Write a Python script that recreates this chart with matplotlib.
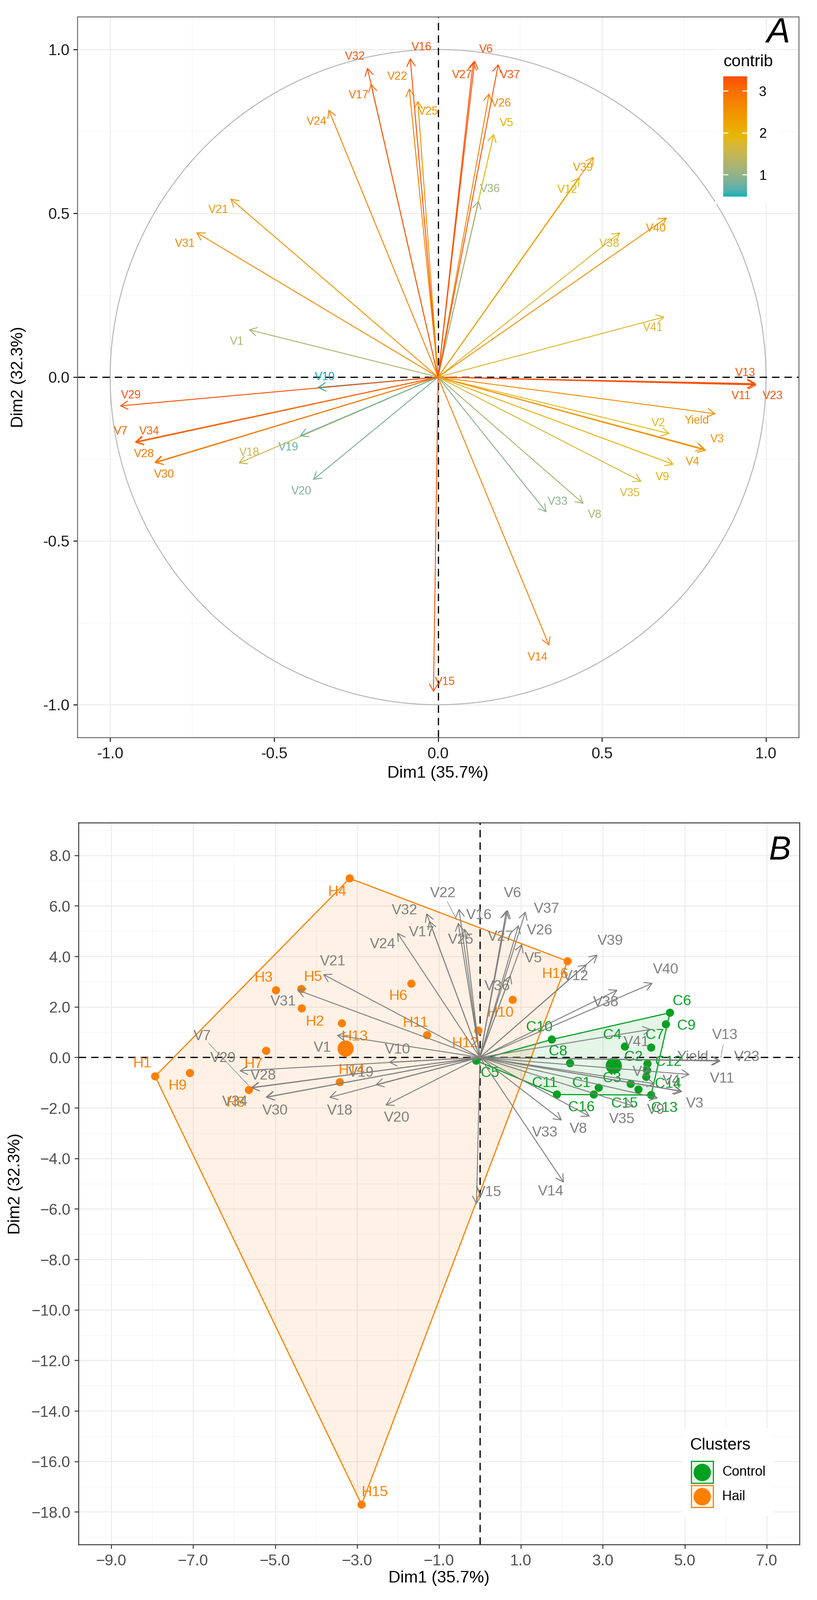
import numpy as np
import matplotlib
matplotlib.use("Agg")
import matplotlib.pyplot as plt
from matplotlib.patches import Circle, Rectangle, Polygon, FancyArrowPatch, ArrowStyle
from matplotlib.colors import LinearSegmentedColormap, Normalize, to_rgb

plt.rcParams['font.family'] = ['Liberation Sans', 'DejaVu Sans']

W, H, DPI = 2196, 4298, 200

# variable coordinates on the correlation circle (Dim1, Dim2)
var_names = ['V1', 'V2', 'V3', 'V4', 'V5', 'V6', 'V7', 'V8', 'V9', 'V10',
             'V11', 'V12', 'V13', 'V14', 'V15', 'V16', 'V17', 'V18', 'V19', 'V20',
             'V21', 'V22', 'V23', 'V24', 'V25', 'V26', 'V27', 'V28', 'V29', 'V30',
             'V31', 'V32', 'V33', 'V34', 'V35', 'V36', 'V37', 'V38', 'V39', 'V40',
             'V41', 'Yield']
var_dim1 = [-0.578, 0.707, 0.818, 0.812, 0.170, 0.112, -0.925, 0.444, 0.719, -0.368,
            0.968, 0.432, 0.970, 0.339, -0.014, -0.085, -0.205, -0.609, -0.422, -0.382,
            -0.634, -0.088, 0.972, -0.334, -0.062, 0.156, 0.107, -0.866, -0.971, -0.864,
            -0.738, -0.216, 0.331, -0.924, 0.621, 0.124, 0.184, 0.556, 0.475, 0.698,
            0.691, 0.847]
var_dim2 = [0.145, -0.173, -0.224, -0.220, 0.743, 0.967, -0.198, -0.387, -0.267, -0.032,
            -0.022, 0.610, -0.020, -0.820, -0.962, 0.974, 0.896, -0.263, -0.180, -0.314,
            0.545, 0.882, -0.024, 0.817, 0.844, 0.867, 0.963, -0.261, -0.088, -0.262,
            0.442, 0.945, -0.413, -0.200, -0.319, 0.539, 0.956, 0.442, 0.673, 0.487,
            0.184, -0.112]
var_contrib = [1.24, 1.86, 2.52, 2.48, 2.03, 3.32, 3.16, 1.21, 2.06, 0.48,
               3.28, 1.96, 3.29, 2.76, 3.24, 3.35, 2.96, 1.54, 0.74, 0.86,
               2.45, 2.75, 3.31, 2.73, 2.51, 2.72, 3.29, 2.86, 3.33, 2.85,
               2.59, 3.29, 0.98, 3.13, 1.71, 1.07, 3.32, 1.77, 2.38, 2.54,
               1.79, 2.55]

# label positions, panel A
lab_a_x = [-0.614, 0.672, 0.851, 0.776, 0.209, 0.146, -0.968, 0.478, 0.684, -0.345,
           0.924, 0.394, 0.937, 0.303, 0.021, -0.051, -0.242, -0.576, -0.457, -0.417,
           -0.670, -0.124, 1.021, -0.370, -0.030, 0.192, 0.073, -0.897, -0.937, -0.835,
           -0.772, -0.254, 0.365, -0.881, 0.585, 0.158, 0.220, 0.522, 0.442, 0.665,
           0.655, 0.788]
lab_a_y = [0.108, -0.141, -0.190, -0.259, 0.775, 1.000, -0.166, -0.421, -0.306, 0.000,
           -0.058, 0.572, 0.012, -0.856, -0.931, 1.007, 0.860, -0.231, -0.215, -0.349,
           0.510, 0.917, -0.058, 0.780, 0.810, 0.835, 0.922, -0.235, -0.056, -0.298,
           0.407, 0.978, -0.381, -0.166, -0.355, 0.574, 0.922, 0.407, 0.639, 0.453,
           0.150, -0.133]

# label positions, panel B (biplot)
lab_b_x = [-3.85, 3.94, 5.25, 4.67, 1.30, 0.80, -6.78, 2.40, 4.29, -2.01,
           5.91, 2.34, 5.98, 1.73, 0.21, -0.02, -1.42, -3.42, -2.90, -2.03,
           -3.59, -0.90, 6.52, -2.38, -0.47, 1.46, 0.50, -5.29, -6.27, -5.00,
           -4.80, -1.84, 1.58, -5.98, 3.46, 0.42, 1.63, 3.07, 3.18, 4.54,
           3.82, 5.19]
lab_b_y = [0.37, -0.58, -1.84, -0.93, 3.91, 6.49, 0.83, -2.84, -2.08, 0.30,
           -0.85, 3.21, 0.87, -5.32, -5.35, 5.63, 4.94, -2.11, -0.61, -2.40,
           3.80, 6.49, 0.00, 4.47, 4.65, 5.02, 4.77, -0.73, -0.04, -2.11,
           2.20, 5.81, -2.99, -1.76, -2.45, 2.81, 5.88, 2.18, 4.61, 3.47,
           0.60, 0.00]
b_leader = ['V7', 'V13', 'V22']
VAR_SCALE = 6.05

# individuals
hail_names = ['H%d' % i for i in range(1, 17)]
hail_dim1 = [-7.93, -4.35, -4.98, -3.18, -4.36, -1.675, -5.22, -5.64,
             -7.08, 0.80, -1.29, -0.04, -3.37, -3.42, -2.89, 2.14]
hail_dim2 = [-0.75, 1.94, 2.66, 7.09, 2.71, 2.92, 0.26, -1.29,
             -0.62, 2.28, 0.88, 1.06, 1.35, -0.98, -17.71, 3.81]
hail_lab_x = [-8.24, -4.03, -5.28, -3.48, -4.07, -1.99, -5.53, -5.96,
              -7.38, 0.50, -1.57, -0.36, -3.06, -3.13, -2.57, 1.84]
hail_lab_y = [-0.25, 1.41, 3.14, 6.55, 3.18, 2.42, -0.27, -1.81,
              -1.13, 1.76, 1.36, 0.55, 0.82, -0.51, -17.23, 3.30]

ctrl_names = ['C%d' % i for i in range(1, 17)]
ctrl_dim1 = [2.90, 4.09, 3.68, 3.54, -0.09, 4.64, 4.18, 2.20,
             4.54, 1.755, 1.88, 4.08, 4.18, 4.06, 3.87, 2.78]
ctrl_dim2 = [-1.20, -0.25, -1.05, 0.43, -0.13, 1.77, 0.39, -0.23,
             1.31, 0.71, -1.47, -0.51, -1.49, -0.77, -1.27, -1.47]
ctrl_lab_x = [2.48, 3.75, 3.22, 3.23, 0.24, 4.93, 4.27, 1.91,
              5.04, 1.45, 1.58, 4.60, 4.50, 4.59, 3.53, 2.48]
ctrl_lab_y = [-1.03, 0.00, -0.84, 0.88, -0.63, 2.22, 0.87, 0.23,
              1.24, 1.19, -1.03, -0.19, -2.02, -1.06, -1.84, -1.99]

HAIL_COL = '#FF7F00'
CTRL_COL = '#00A121'
VAR_GREY = '#7F7F7F'
GRAD = ['#00AFBB', '#E7B800', '#FC4E07']


# --- colour ramp interpolated in CIELAB, as ggplot does
_M = np.array([[0.4124564, 0.3575761, 0.1804375],
               [0.2126729, 0.7151522, 0.0721750],
               [0.0193339, 0.1191920, 0.9503041]])
_WP = np.array([0.95047, 1.0, 1.08883])


def to_lab(c):
    c = np.array(to_rgb(c))
    lin = np.where(c <= 0.04045, c / 12.92, ((c + 0.055) / 1.055) ** 2.4)
    t = (_M @ lin) / _WP
    d = 6 / 29
    f = np.where(t > d ** 3, np.cbrt(t), t / (3 * d * d) + 4 / 29)
    return np.array([116 * f[1] - 16, 500 * (f[0] - f[1]), 200 * (f[1] - f[2])])


def from_lab(lab):
    fy = (lab[0] + 16) / 116
    f = np.array([fy + lab[1] / 500, fy, fy - lab[2] / 200])
    d = 6 / 29
    t = np.where(f > d, f ** 3, 3 * d * d * (f - 4 / 29))
    lin = np.linalg.solve(_M, t * _WP)
    lin = np.clip(lin, 0, None)
    c = np.where(lin <= 0.0031308, 12.92 * lin, 1.055 * lin ** (1 / 2.4) - 0.055)
    return np.clip(c, 0, 1)


labs = [to_lab(c) for c in GRAD]
ramp = []
for t in np.linspace(0, 1, 256):
    seg = min(int(t * 2), 1)
    u = t * 2 - seg
    ramp.append(from_lab(labs[seg] * (1 - u) + labs[seg + 1] * u))
cmap = LinearSegmentedColormap.from_list('contrib', ramp)
norm = Normalize(min(var_contrib), max(var_contrib))


def convex_hull(xs, ys):
    pts = sorted(zip(xs, ys))

    def cross(o, a, b):
        return (a[0] - o[0]) * (b[1] - o[1]) - (a[1] - o[1]) * (b[0] - o[0])
    lower, upper = [], []
    for p in pts:
        while len(lower) >= 2 and cross(lower[-2], lower[-1], p) <= 0:
            lower.pop()
        lower.append(p)
    for p in reversed(pts):
        while len(upper) >= 2 and cross(upper[-2], upper[-1], p) <= 0:
            upper.pop()
        upper.append(p)
    return lower[:-1] + upper[:-1]


def px_box(x0, y0, x1, y1):
    return [x0 / W, 1 - y1 / H, (x1 - x0) / W, (y1 - y0) / H]


def ftext(x, y, s, **kw):
    fig.text(x / W, 1 - y / H, s, **kw)


def arrow(ax, x, y, color, lw=0.9, z=3):
    ax.add_patch(FancyArrowPatch((0, 0), (x, y),
                                 arrowstyle=ArrowStyle('->', head_length=7, head_width=4),
                                 mutation_scale=1, shrinkA=0, shrinkB=0,
                                 color=color, lw=lw, zorder=z))


def style_axes(ax, spine_col, tick_col, lab_col):
    ax.set_axisbelow(True)
    ax.grid(which='major', color='#EBEBEB', lw=0.9)
    ax.grid(which='minor', color='#F4F4F4', lw=0.5)
    for s in ax.spines.values():
        s.set_color(spine_col)
        s.set_linewidth(0.9)
    ax.tick_params(which='major', length=4, width=0.9, color=tick_col,
                   labelsize=15, labelcolor=lab_col)
    ax.tick_params(which='minor', length=0)
    ax.tick_params(axis='x', pad=5)
    ax.tick_params(axis='y', pad=3.5)


fig = plt.figure(figsize=(W / DPI, H / DPI), dpi=DPI)

# ---------------- panel A: correlation circle ----------------
ax = fig.add_axes(px_box(208, 45, 2147, 1981))
ax.set_xlim(-1.1, 1.1)
ax.set_ylim(-1.1, 1.1)
ax.set_xticks([-1, -0.5, 0, 0.5, 1])
ax.set_yticks([-1, -0.5, 0, 0.5, 1])
ax.set_xticks([-0.75, -0.25, 0.25, 0.75], minor=True)
ax.set_yticks([-0.75, -0.25, 0.25, 0.75], minor=True)
ax.set_xticklabels(['%.1f' % v for v in [-1, -0.5, 0, 0.5, 1]])
ax.set_yticklabels(['%.1f' % v for v in [-1, -0.5, 0, 0.5, 1]])
style_axes(ax, '#666666', 'black', '#1A1A1A')

ax.add_patch(Circle((0, 0), 1, fill=False, ec='#B3B3B3', lw=0.9, zorder=1))
ax.axhline(0, color='black', lw=1.2, ls=(0, (6, 4)), zorder=1.5)
ax.axvline(0, color='black', lw=1.2, ls=(0, (6, 4)), zorder=1.5)

for i, name in enumerate(var_names):
    col = cmap(norm(var_contrib[i]))
    arrow(ax, var_dim1[i], var_dim2[i], col, lw=0.9, z=2)
    ax.text(lab_a_x[i], lab_a_y[i], name, color=col, fontsize=11,
            ha='center', va='center', zorder=3)

# white legend box on top of the circle
ax.add_patch(Rectangle((1922 / W, 1 - 548 / H), 178 / W, 414 / H,
                       transform=fig.transFigure, fc='white', ec='none', zorder=10))

ftext(1177, 2077, 'Dim1 (35.7%)', ha='center', va='center', fontsize=16)
ftext(50, 1013, 'Dim2 (32.3%)', ha='center', va='center', fontsize=16, rotation=90)
ftext(2092, 89, 'A', ha='center', va='center', fontsize=34, style='italic')

# colour bar for contrib
cax = fig.add_axes(px_box(1944, 205, 2008, 528))
grad = np.linspace(norm.vmin, norm.vmax, 256).reshape(-1, 1)
cax.imshow(grad, cmap=cmap, norm=norm, aspect='auto', origin='lower',
           extent=[0, 1, norm.vmin, norm.vmax])
cax.set_xlim(0, 1)
cax.set_ylim(norm.vmin, norm.vmax)
for s in cax.spines.values():
    s.set_visible(False)
cax.set_xticks([])
cax.set_yticks([1, 2, 3])
cax.tick_params(axis='y', left=False, right=False, labelleft=False,
                labelright=True, labelsize=13, pad=8)
cax.hlines([1, 2, 3], 0, 0.2, color='white', lw=1)
cax.hlines([1, 2, 3], 0.8, 1, color='white', lw=1)
ftext(1944, 166, 'contrib', ha='left', va='center', fontsize=16)

# ---------------- panel B: biplot ----------------
bx = fig.add_axes(px_box(210.5, 2210, 2149, 4149))
bx.set_xlim(-9.805, 7.802)
bx.set_ylim(-19.29, 9.294)
xt = list(range(-9, 8, 2))
yt = list(range(-18, 9, 2))
bx.set_xticks(xt)
bx.set_yticks(yt)
bx.set_xticks(list(range(-8, 8, 2)), minor=True)
bx.set_yticks(list(range(-19, 10, 2)), minor=True)
bx.set_xticklabels([('%.1f' % v).replace('-', '\u2212') for v in xt])
bx.set_yticklabels([('%.1f' % v).replace('-', '\u2212') for v in yt])
style_axes(bx, '#333333', '#333333', '#4D4D4D')

for xs, ys, col in [(ctrl_dim1, ctrl_dim2, CTRL_COL), (hail_dim1, hail_dim2, HAIL_COL)]:
    hull = convex_hull(xs, ys)
    bx.add_patch(Polygon(hull, closed=True, fc=col, alpha=0.1, ec='none', zorder=1))
    bx.add_patch(Polygon(hull, closed=True, fill=False, ec=col, lw=1.1, zorder=1.2))

bx.axhline(0, color='black', lw=1.2, ls=(0, (6, 4)), zorder=1.5)
bx.axvline(0, color='black', lw=1.2, ls=(0, (6, 4)), zorder=1.5)

for names, xs, ys, lx, ly, col in [
        (ctrl_names, ctrl_dim1, ctrl_dim2, ctrl_lab_x, ctrl_lab_y, CTRL_COL),
        (hail_names, hail_dim1, hail_dim2, hail_lab_x, hail_lab_y, HAIL_COL)]:
    bx.scatter(xs, ys, s=62, color=col, edgecolors='none', zorder=2)
    bx.scatter([np.mean(xs)], [np.mean(ys)], s=245, color=col, edgecolors='none', zorder=2)
    for i, n in enumerate(names):
        bx.text(lx[i], ly[i], n, color=col, fontsize=14, ha='center', va='center', zorder=2.5)

for i, name in enumerate(var_names):
    tx, ty = VAR_SCALE * var_dim1[i], VAR_SCALE * var_dim2[i]
    arrow(bx, tx, ty, VAR_GREY, lw=0.9, z=3)
    bx.text(lab_b_x[i], lab_b_y[i], name, color=VAR_GREY, fontsize=14,
            ha='center', va='center', zorder=3.5)
    if name in b_leader:
        bx.annotate('', xy=(tx, ty), xytext=(lab_b_x[i], lab_b_y[i]),
                    arrowprops=dict(arrowstyle='-', color=VAR_GREY, lw=0.5,
                                    shrinkA=9, shrinkB=3), zorder=3)

# legend for clusters
bx.add_patch(Rectangle((1834 / W, 1 - 4072 / H), 245 / W, 235 / H,
                       transform=fig.transFigure, fc='white', ec='none', zorder=10))
ftext(1855, 3883, 'Clusters', ha='left', va='center', fontsize=16)
for k, (lab, col) in enumerate([('Control', CTRL_COL), ('Hail', HAIL_COL)]):
    y0 = 3925 + k * 65
    light = tuple(0.9 + 0.1 * np.array(to_rgb(col)))
    bx.add_patch(Rectangle((1858 / W, 1 - (y0 + 59) / H), 59 / W, 59 / H,
                           transform=fig.transFigure, fc=light, ec=col, lw=1.1,
                           zorder=11, clip_on=False))
    bx.plot([1887.5 / W], [1 - (y0 + 29.5) / H], 'o', ms=15.8, color=col,
            transform=fig.transFigure, clip_on=False, zorder=12)
    ftext(1941, y0 + 30, lab, ha='left', va='center', fontsize=13)

ftext(1180, 4240, 'Dim1 (35.7%)', ha='center', va='center', fontsize=16)
ftext(42, 3180, 'Dim2 (32.3%)', ha='center', va='center', fontsize=16, rotation=90)
ftext(2096, 2286, 'B', ha='center', va='center', fontsize=32, style='italic')

fig.savefig('out.png', dpi=DPI, facecolor='white')
